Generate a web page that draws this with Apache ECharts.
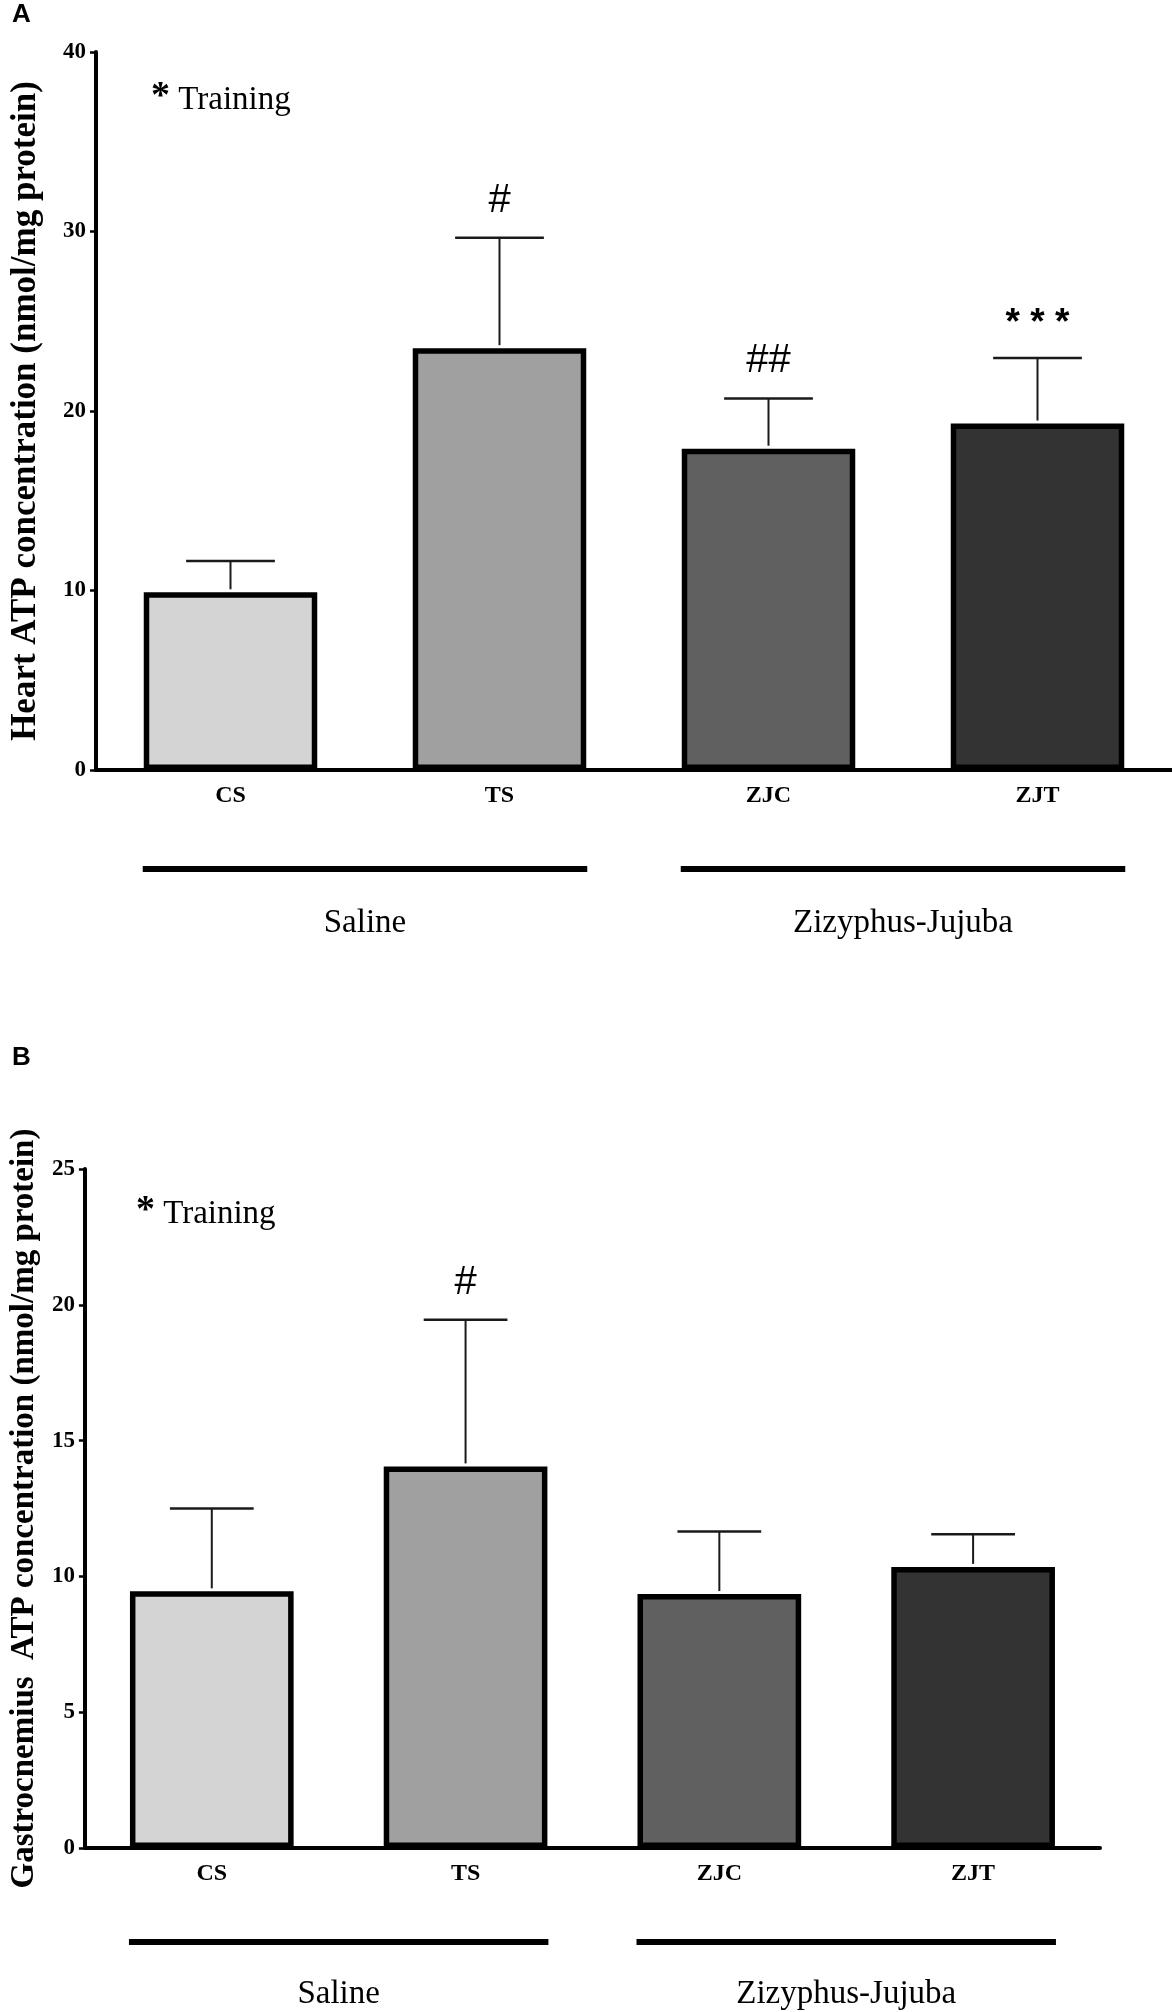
<!DOCTYPE html>
<html><head><meta charset="utf-8">
<script src="https://cdn.jsdelivr.net/npm/echarts@6/dist/echarts.min.js"></script>
<style>html,body{margin:0;padding:0;background:#fff}#c{width:1172px;height:2012px}</style>
</head><body><div id="c"></div>
<script>
// ---- data ----
const categories = ['CS', 'TS', 'ZJC', 'ZJT'];
const barColors = ['#d4d4d4', '#a0a0a0', '#606060', '#333333'];
const heartMean = [9.9, 23.5, 17.9, 19.3];
const heartSem = [1.75, 6.15, 2.8, 3.65];
const heartMarks = ['', '#', '##', '* * *'];
const gastroMean = [9.45, 14.05, 9.35, 10.35];
const gastroSem = [3.05, 5.4, 2.3, 1.2];
const gastroMarks = ['', '#', '', ''];
const groupNames = ['Saline', 'Zizyphus-Jujuba'];
const groupSpans = [[0, 1], [2, 3]];
const heartAxis = { min: 0, max: 40, interval: 10 };
const gastroAxis = { min: 0, max: 25, interval: 5 };
const heartTitle = 'Heart ATP concentration (nmol/mg protein)';
const gastroTitle = 'Gastrocnemius  ATP concentration (nmol/mg protein)';
const legendStar = '*';
const legendText = 'Training';

const SERIF = '"Liberation Serif", "Times New Roman", serif';
const SANS = '"Liberation Sans", Arial, sans-serif';
const BAR_W = 0.645;

const chart = echarts.init(document.getElementById('c'), null, { renderer: 'canvas' });

function xAxisCfg(gi) {
  return {
    type: 'category', gridIndex: gi, data: categories,
    axisLine: { lineStyle: { color: '#000', width: 4 } },
    axisTick: { alignWithLabel: true, length: 6, lineStyle: { color: '#000', width: 2.5 } },
    axisLabel: { color: '#000', fontFamily: SERIF, fontWeight: 'bold', fontSize: 24, margin: 14 },
    splitLine: { show: false }
  };
}
function yAxisCfg(gi, ax, name, nameSize, nameGap) {
  return {
    type: 'value', gridIndex: gi, min: ax.min, max: ax.max, interval: ax.interval,
    name: name, nameLocation: 'middle', nameGap: nameGap,
    nameTextStyle: { color: '#000', fontFamily: SERIF, fontWeight: 'bold', fontSize: nameSize },
    axisLine: { show: true, lineStyle: { color: '#000', width: 4 } },
    axisTick: { show: true, length: 6, lineStyle: { color: '#000', width: 2.5 } },
    axisLabel: { color: '#000', fontFamily: SERIF, fontWeight: 'bold', fontSize: 23, margin: 10 },
    splitLine: { show: false }
  };
}
function barSeries(gi, means) {
  return {
    type: 'bar', xAxisIndex: gi, yAxisIndex: gi, barWidth: (BAR_W * 100) + '%',
    data: means.map((v, i) => ({ value: v, itemStyle: { color: barColors[i] } })),
    itemStyle: { borderColor: '#000', borderWidth: 5.5 }, z: 2
  };
}
function errSeries(gi, means, sems, marks) {
  return {
    type: 'custom', xAxisIndex: gi, yAxisIndex: gi, z: 5,
    encode: { x: 0, y: [1, 2] },
    data: means.map((v, i) => [i, v, v + sems[i]]),
    renderItem: function (params, api) {
      const i = api.value(0);
      const base = api.coord([i, api.value(1)]);
      const top = api.coord([i, api.value(2)]);
      const band = api.size([1, 0])[0];
      const half = band * 0.165;
      const children = [
        { type: 'line', shape: { x1: base[0], y1: base[1] - 3, x2: top[0], y2: top[1] }, style: { stroke: '#1a1a1a', lineWidth: 2 } },
        { type: 'line', shape: { x1: top[0] - half, y1: top[1], x2: top[0] + half, y2: top[1] }, style: { stroke: '#1a1a1a', lineWidth: 2.5 } }
      ];
      const m = marks[params.dataIndex];
      if (m) {
        const isStar = m.indexOf('*') >= 0;
        children.push({
          type: 'text', x: top[0], y: top[1] - (isStar ? 34 : 37),
          style: {
            text: m, fill: '#000', textAlign: 'center', textVerticalAlign: 'middle',
            font: isStar ? 'bold 37px ' + SANS : '40px ' + SANS
          }
        });
      }
      return { type: 'group', children: children };
    }
  };
}

chart.setOption({
  animation: false,
  backgroundColor: '#fff',
  grid: [
    { left: 91, top: 52, width: 1081, height: 718 },
    { left: 81, top: 1169, width: 1019, height: 679 }
  ],
  xAxis: [xAxisCfg(0), xAxisCfg(1)],
  yAxis: [
    yAxisCfg(0, heartAxis, heartTitle, 35, 53),
    yAxisCfg(1, gastroAxis, gastroTitle, 33, 42)
  ],
  series: [
    barSeries(0, heartMean), errSeries(0, heartMean, heartSem, heartMarks),
    barSeries(1, gastroMean), errSeries(1, gastroMean, gastroSem, gastroMarks)
  ]
});

// group brackets and labels, positioned through the axes
function groupGraphics(gi, lineDy, labelDy) {
  const els = [];
  const y0 = chart.convertToPixel({ yAxisIndex: gi }, 0);
  const band = chart.convertToPixel({ xAxisIndex: gi }, 1) - chart.convertToPixel({ xAxisIndex: gi }, 0);
  const halfBar = band * BAR_W / 2 + 1;
  groupSpans.forEach((span, g) => {
    const xa = chart.convertToPixel({ xAxisIndex: gi }, span[0]) - halfBar;
    const xb = chart.convertToPixel({ xAxisIndex: gi }, span[1]) + halfBar;
    els.push({ type: 'line', shape: { x1: xa, y1: y0 + lineDy, x2: xb, y2: y0 + lineDy }, style: { stroke: '#000', lineWidth: 6 } });
    els.push({ type: 'text', x: (xa + xb) / 2, y: y0 + labelDy,
      style: { text: groupNames[g], fill: '#000', font: '33px ' + SERIF, textAlign: 'center', textVerticalAlign: 'middle' } });
  });
  return els;
}
function noteGraphic(gi, dx, dy) {
  const yTop = chart.convertToPixel({ yAxisIndex: gi }, gi === 0 ? heartAxis.max : gastroAxis.max);
  const x0 = chart.convertToPixel({ xAxisIndex: gi }, 0);
  const band = chart.convertToPixel({ xAxisIndex: gi }, 1) - x0;
  return { type: 'text', x: x0 - band / 2 + dx, y: yTop + dy,
    style: {
      text: '{s|' + legendStar + '} ' + legendText, fill: '#000', font: '33px ' + SERIF,
      textAlign: 'left', textVerticalAlign: 'middle',
      rich: { s: { font: 'bold 38px ' + SERIF, fill: '#000', padding: [0, 0, 6, 0] } }
    } };
}

const graphics = []
  .concat(groupGraphics(0, 99, 153))
  .concat(groupGraphics(1, 94, 146));
graphics.push(noteGraphic(0, 55, 48));
graphics.push(noteGraphic(1, 51, 45));
graphics.push({ type: 'text', left: 12, top: 2, style: { text: 'A', fill: '#000', font: 'bold 26px ' + SANS } });
graphics.push({ type: 'text', left: 12, top: 1045, style: { text: 'B', fill: '#000', font: 'bold 26px ' + SANS } });
chart.setOption({ graphic: graphics });
</script>
</body></html>
